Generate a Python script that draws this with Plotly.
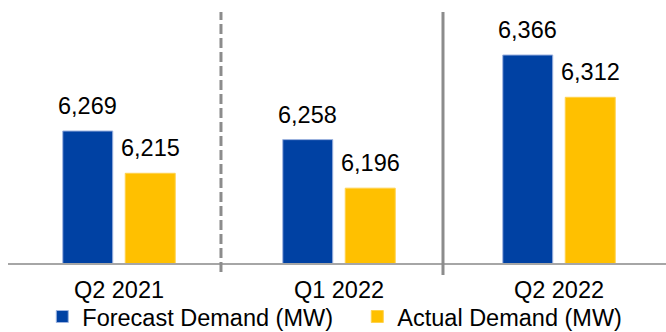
import plotly.graph_objects as go

categories = ["Q2 2021", "Q1 2022", "Q2 2022"]
forecast = [6269, 6258, 6366]
actual = [6215, 6196, 6312]
series_names = ["Forecast Demand (MW)", "Actual Demand (MW)"]

BLUE = "#0041A3"
GOLD = "#FFC000"
FONT = "Liberation Sans, Arial, sans-serif"
FS = 23.5

fig = go.Figure()
fig.add_trace(go.Bar(x=categories, y=forecast, name=series_names[0],
                     marker=dict(color=BLUE, line=dict(color="#9FB4E0", width=1))))
fig.add_trace(go.Bar(x=categories, y=actual, name=series_names[1],
                     marker=dict(color=GOLD, line=dict(color="#FFD24D", width=1))))

for vals, xs in ((forecast, -31.25), (actual, 31.25)):
    for c, v in zip(categories, vals):
        fig.add_annotation(x=c, y=v, text=f"{v:,}", showarrow=False,
                           xshift=xs, yshift=10, yanchor="bottom",
                           font=dict(family=FONT, size=FS, color="#000000"))

# divider lines between periods
fig.add_shape(type="line", xref="x", yref="paper", x0=0.4636, x1=0.4636,
              y0=-0.036, y1=1.004, line=dict(color="#8C8C8C", width=3, dash="10px,4px"))
fig.add_shape(type="line", xref="x", yref="paper", x0=1.4727, x1=1.4727,
              y0=-0.048, y1=1.004, line=dict(color="#8C8C8C", width=3))

fig.update_layout(
    width=666, height=332,
    margin=dict(l=8, r=0, t=13, b=69, autoexpand=False),
    paper_bgcolor="white", plot_bgcolor="white",
    barmode="group", bargap=0.432, bargroupgap=0.2,
    font=dict(family=FONT, size=FS, color="#000000"),
    showlegend=True,
    legend=dict(orientation="h", xref="container", yref="container",
                x=0.0635, xanchor="left", y=0.046, yanchor="middle",
                font=dict(family=FONT, size=FS, color="#000000"),
                entrywidth=270, entrywidthmode="pixels",
                bgcolor="rgba(0,0,0,0)"),
    xaxis=dict(type="category", range=[-0.5045, 2.4864], showline=True,
               linecolor="#A6A6A6", linewidth=2, ticks="", showgrid=False,
               automargin=False, ticklabelstandoff=5,
               tickfont=dict(family=FONT, size=FS, color="#000000")),
    yaxis=dict(range=[6100.5, 6419.6], visible=False, showgrid=False, zeroline=False),
)

fig.write_html("out.html")
